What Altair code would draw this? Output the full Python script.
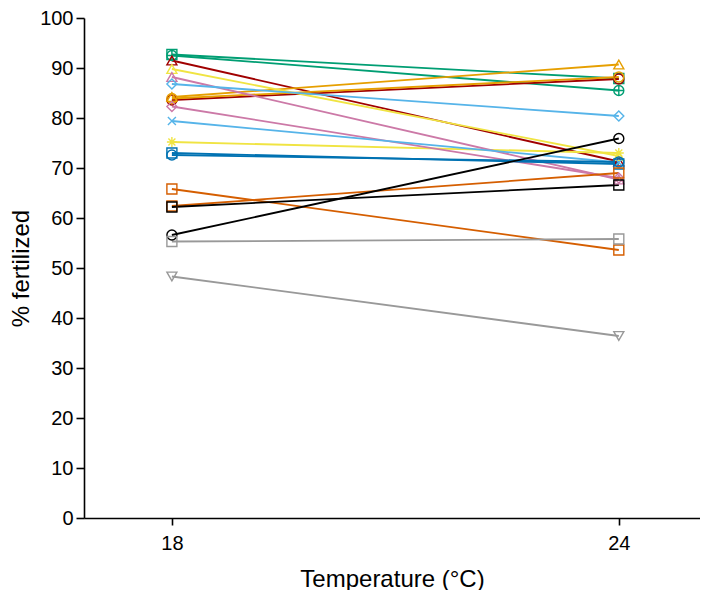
import altair as alt
import pandas as pd

# ---- data ----
names = [
    "green-sq", "green-cplus", "darkred-tri", "darkred-circ", "orange-tri",
    "orange-circ", "yellow-tri", "yellow-ast", "pink-tri", "pink-dia",
    "lblue-dia", "lblue-x", "blue-sq", "blue-circ", "verm-sq1",
    "verm-sq2", "black-sq", "black-circ", "gray-sq", "gray-tridown",
]
temps = [18, 24]
at18 = [92.7, 92.5, 91.5, 83.6, 84.2, 83.9, 89.8, 75.2, 88.2, 82.3,
        86.8, 79.4, 73.0, 72.6, 65.8, 62.4, 62.2, 56.6, 55.3, 48.3]
at24 = [87.9, 85.5, 71.3, 87.8, 90.7, 88.2, 72.4, 73.0, 67.7, 68.0,
        80.4, 71.1, 70.8, 71.2, 53.6, 69.0, 66.6, 75.9, 55.8, 36.4]

colors = ["#009E73", "#009E73", "#A00000", "#A00000", "#E69F00",
          "#E69F00", "#F0E442", "#F0E442", "#CC79A7", "#CC79A7",
          "#56B4E9", "#56B4E9", "#0072B2", "#0072B2", "#D55E00",
          "#D55E00", "#000000", "#000000", "#999999", "#999999"]

ASTER = "M-1,0L1,0M0,-1L0,1M-0.7,-0.7L0.7,0.7M-0.7,0.7L0.7,-0.7"
XMARK = "M-0.8,-0.8L0.8,0.8M-0.8,0.8L0.8,-0.8"
CPLUS = "M1,0A1,1,0,1,1,-1,0A1,1,0,1,1,1,0ZM-1,0L1,0M0,-1L0,1"
shapes = ["square", CPLUS, "triangle-up", "circle", "triangle-up",
          "circle", "triangle-up", ASTER, "triangle-up", "diamond",
          "diamond", XMARK, "square", "circle", "square",
          "square", "square", "circle", "square", "triangle-down"]

y_ticks = list(range(0, 101, 10))
x_ticks = [18, 24]

rows = []
for i, n in enumerate(names):
    rows.append({"series": n, "order": i, "temp": temps[0], "pct": at18[i]})
    rows.append({"series": n, "order": i, "temp": temps[1], "pct": at24[i]})
df = pd.DataFrame(rows)

font = "Liberation Sans"

x_enc = alt.X("temp:Q", scale=alt.Scale(domain=[16.82, 25.09], nice=False, zero=False),
              axis=alt.Axis(values=x_ticks, title="Temperature (°C)", format="d",
                            tickSize=7, labelPadding=8, titlePadding=14))
y_enc = alt.Y("pct:Q", scale=alt.Scale(domain=[0, 100], nice=False),
              axis=alt.Axis(values=y_ticks, title="% fertilized",
                            tickSize=8, labelPadding=3, titlePadding=6))
color_enc = alt.Color("series:N", scale=alt.Scale(domain=names, range=colors), legend=None)
shape_enc = alt.Shape("series:N", scale=alt.Scale(domain=names, range=shapes), legend=None)

lines = alt.Chart(df).mark_line(strokeWidth=1.8).encode(
    x=x_enc, y=y_enc, color=color_enc, detail="series:N", order="temp:Q"
)
points = alt.Chart(df).mark_point(filled=False, size=100, strokeWidth=1.4, opacity=1).encode(
    x=x_enc, y=y_enc, color=color_enc, shape=shape_enc
)

chart = (
    alt.layer(lines, points)
    .properties(width=616, height=500,
                autosize=alt.AutoSizeParams(type="none"),
                padding={"left": 76, "top": 10, "right": 0, "bottom": 72})
    .configure_view(stroke=None)
    .configure_axis(
        domainColor="black", domainWidth=1.6, tickColor="black", tickWidth=1.6,
        labelColor="black", titleColor="black", labelFont=font, titleFont=font,
        labelFontSize=20, titleFontSize=24, titleFontWeight="normal", grid=False,
    )
)

chart.save("out.html", embed_options={"renderer": "svg", "actions": False})
